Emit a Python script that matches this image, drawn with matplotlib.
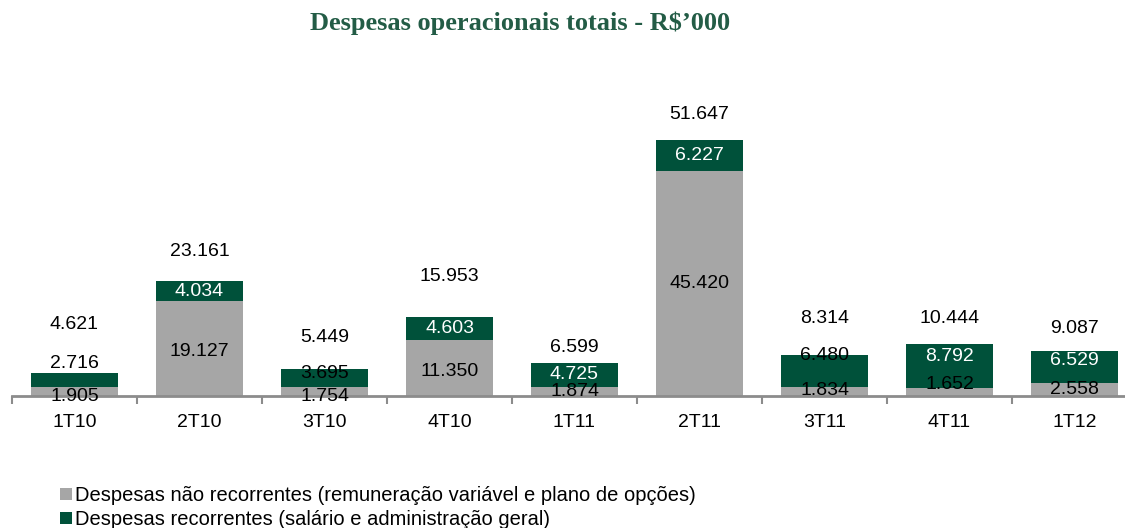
import matplotlib
matplotlib.use("Agg")
import matplotlib.pyplot as plt
import numpy as np

plt.rcParams['font.family'] = ['Liberation Sans', 'DejaVu Sans']

# data (R$'000)
quarters = ['1T10', '2T10', '3T10', '4T10', '1T11', '2T11', '3T11', '4T11', '1T12']
nao_recorrentes = [1.905, 19.127, 1.754, 11.350, 1.874, 45.420, 1.834, 1.652, 2.558]
recorrentes = [2.716, 4.034, 3.695, 4.603, 4.725, 6.227, 6.480, 8.792, 6.529]
totais = [4.621, 23.161, 5.449, 15.953, 6.599, 51.647, 8.314, 10.444, 9.087]

# label nudges in pixels (layout only)
total_off = [49, 30, 31, 40, 16, 25, 36, 26, 22]
rec_off = [16, 0, 5, 0, 0, 0, 15, 10, 7]
nrec_off = [-5, -3, -5, -4, 0, 0, 1, 7, 0]
rec_white = [False, True, False, True, True, True, False, True, True]

GRAY = '#a6a6a6'
GREEN = '#00513a'

fig = plt.figure(figsize=(11.25, 5.28), dpi=100)
ax = fig.add_axes([12 / 1125, 132 / 528, 1.0, 297.6 / 528])

x = np.arange(len(quarters))
ax.bar(x, nao_recorrentes, width=0.7, color=GRAY,
       label='Despesas não recorrentes (remuneração variável e plano de opções)')
ax.bar(x, recorrentes, width=0.7, bottom=nao_recorrentes, color=GREEN,
       label='Despesas recorrentes (salário e administração geral)')

fs = 14
for i in range(len(quarters)):
    ax.annotate(f'{nao_recorrentes[i]:.3f}', (x[i], nao_recorrentes[i] / 2),
                xytext=(0, nrec_off[i]), textcoords='offset pixels',
                ha='center', va='center', fontsize=fs, color='black')
    ax.annotate(f'{recorrentes[i]:.3f}', (x[i], nao_recorrentes[i] + recorrentes[i] / 2),
                xytext=(0, rec_off[i]), textcoords='offset pixels',
                ha='center', va='center', fontsize=fs,
                color='white' if rec_white[i] else 'black')
    ax.annotate(f'{totais[i]:.3f}', (x[i], totais[i]),
                xytext=(0, total_off[i]), textcoords='offset pixels',
                ha='center', va='center', fontsize=fs, color='black')

ax.set_xlim(-0.5, len(quarters) - 0.5)
ax.set_ylim(0, 60)
ax.set_xticks(x)
ax.set_xticklabels(quarters, fontsize=fs)
ax.tick_params(axis='x', which='major', length=0, pad=13)
ax.set_xticks(np.arange(-0.5, len(quarters), 1.0), minor=True)
ax.tick_params(axis='x', which='minor', length=6, width=1.5, color='#8c8c8c', direction='out')
ax.set_yticks([])
for s in ['top', 'right', 'left']:
    ax.spines[s].set_visible(False)
ax.spines['bottom'].set_color('#8c8c8c')
ax.spines['bottom'].set_linewidth(2)

fig.text(520 / 1125, 1 - 23 / 528, 'Despesas operacionais totais - R$’000',
         ha='center', va='center', fontsize=19, fontweight='bold',
         color='#235c46', family=['Liberation Serif', 'DejaVu Serif'])

fig.legend(loc='upper left', bbox_to_anchor=(52 / 1125, 1 - 478 / 528),
           frameon=False, fontsize=14.5, handlelength=0.6, handleheight=0.6,
           handletextpad=0.15, labelspacing=0.25, borderaxespad=0)

fig.savefig('out.png', dpi=100)
